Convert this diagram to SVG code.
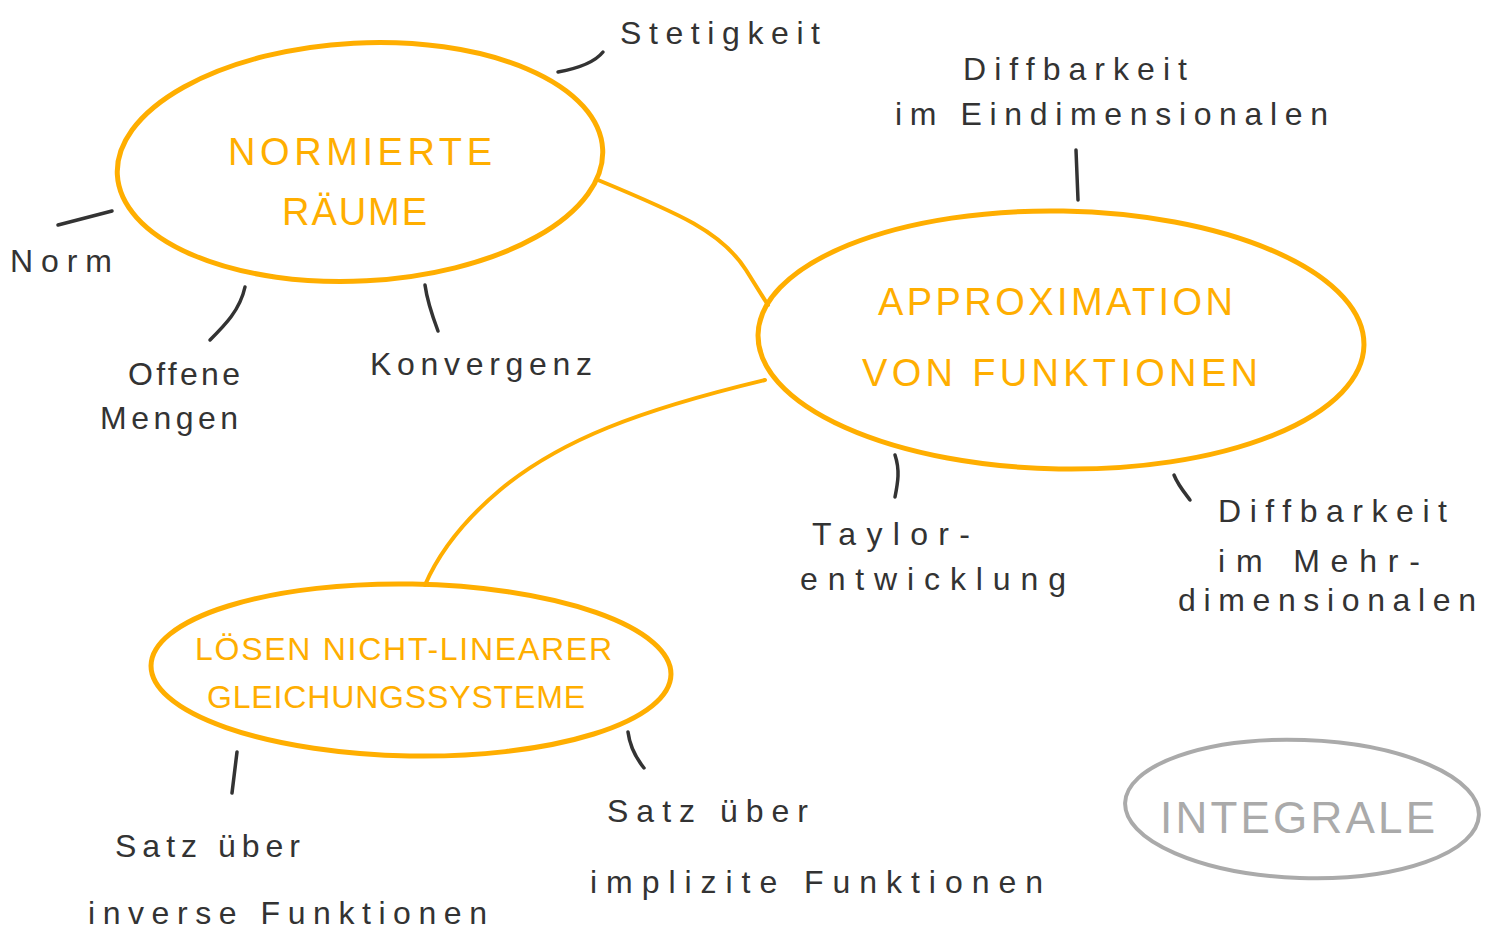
<svg xmlns="http://www.w3.org/2000/svg" width="1492" height="931" viewBox="0 0 1492 931">
  <style>
    .topic { fill: none; stroke: #ffae00; stroke-width: 5; }
    .topic-grey { fill: none; stroke: #aaaaaa; stroke-width: 4; }
    .link { fill: none; stroke: #ffae00; stroke-width: 4; stroke-linecap: round; }
    .tick { fill: none; stroke: #333333; stroke-width: 3.5; stroke-linecap: round; }
    .title { font-family: "Liberation Sans", Arial, sans-serif; fill: #ffae00; font-size: 38px; }
    .title-grey { font-family: "Liberation Sans", Arial, sans-serif; fill: #aaaaaa; font-size: 44px; }
    .note { font-family: "Liberation Sans", Arial, sans-serif; fill: #333333; font-size: 32px; }
  </style>

  <rect width="1492" height="931" fill="#ffffff"/>

  <!-- connectors between topics -->
  <g id="connectors">
    <path class="link" d="M598,180 C680,214 722,232 746,270 L768,305"/>
    <path class="link" d="M765,380 C640,410 560,440 500,490 C462,522 438,555 425,585"/>
  </g>

  <!-- Normierte Räume -->
  <g id="normierte-raeume">
    <ellipse class="topic" cx="360" cy="162" rx="243" ry="119" transform="rotate(-3 360 162)"/>
    <text class="title" x="228" y="165" textLength="264" lengthAdjust="spacing">NORMIERTE</text>
    <text class="title" x="282" y="225" textLength="145" lengthAdjust="spacing">RÄUME</text>
  </g>

  <!-- Approximation von Funktionen -->
  <g id="approximation">
    <ellipse class="topic" cx="1061" cy="340" rx="303" ry="129" transform="rotate(1 1061 340)"/>
    <text class="title" x="878" y="315" textLength="355" lengthAdjust="spacing">APPROXIMATION</text>
    <text class="title" x="862" y="386" textLength="396" lengthAdjust="spacing">VON  FUNKTIONEN</text>
  </g>

  <!-- Lösen nicht-linearer Gleichungssysteme -->
  <g id="gleichungssysteme">
    <ellipse class="topic" cx="411" cy="670" rx="260" ry="86" transform="rotate(1 411 670)"/>
    <text class="title" x="195" y="660" textLength="417" lengthAdjust="spacing" style="font-size:32px">LÖSEN  NICHT-LINEARER</text>
    <text class="title" x="207" y="708" textLength="378" lengthAdjust="spacing" style="font-size:32px">GLEICHUNGSSYSTEME</text>
  </g>

  <!-- Integrale -->
  <g id="integrale">
    <ellipse class="topic-grey" cx="1302" cy="809" rx="177" ry="69" transform="rotate(2 1302 809)"/>
    <text class="title-grey" x="1160" y="833" textLength="275" lengthAdjust="spacing">INTEGRALE</text>
  </g>

  <!-- sub-topics -->
  <g id="stetigkeit">
    <path class="tick" d="M558,72 C580,68 595,62 603,52"/>
    <text class="note" x="620" y="44" textLength="200" lengthAdjust="spacing">Stetigkeit</text>
  </g>
  <g id="norm">
    <path class="tick" d="M58,225 L112,211"/>
    <text class="note" x="10" y="272" textLength="102" lengthAdjust="spacing">Norm</text>
  </g>
  <g id="offene-mengen">
    <path class="tick" d="M245,287 C240,310 225,325 210,340"/>
    <text class="note" x="128" y="385" textLength="112" lengthAdjust="spacing">Offene</text>
    <text class="note" x="100" y="429" textLength="138" lengthAdjust="spacing">Mengen</text>
  </g>
  <g id="konvergenz">
    <path class="tick" d="M425,285 C427,300 432,315 438,331"/>
    <text class="note" x="370" y="375" textLength="222" lengthAdjust="spacing">Konvergenz</text>
  </g>
  <g id="diffbarkeit-eindim">
    <path class="tick" d="M1076,150 L1078,200"/>
    <text class="note" x="963" y="80" textLength="224" lengthAdjust="spacing">Diffbarkeit</text>
    <text class="note" x="895" y="125" textLength="433" lengthAdjust="spacing">im Eindimensionalen</text>
  </g>
  <g id="taylor">
    <path class="tick" d="M895,455 C900,470 898,482 895,497"/>
    <text class="note" x="812" y="545" textLength="158" lengthAdjust="spacing">Taylor-</text>
    <text class="note" x="800" y="590" textLength="266" lengthAdjust="spacing">entwicklung</text>
  </g>
  <g id="diffbarkeit-mehrdim">
    <path class="tick" d="M1174,475 C1178,485 1184,492 1190,500"/>
    <text class="note" x="1218" y="522" textLength="229" lengthAdjust="spacing">Diffbarkeit</text>
    <text class="note" x="1218" y="572" textLength="202" lengthAdjust="spacing">im  Mehr-</text>
    <text class="note" x="1178" y="611" textLength="298" lengthAdjust="spacing">dimensionalen</text>
  </g>
  <g id="satz-inverse">
    <path class="tick" d="M237,752 L232,793"/>
    <text class="note" x="115" y="857" textLength="185" lengthAdjust="spacing">Satz über</text>
    <text class="note" x="88" y="924" textLength="399" lengthAdjust="spacing">inverse  Funktionen</text>
  </g>
  <g id="satz-implizite">
    <path class="tick" d="M628,732 C630,748 636,758 644,768"/>
    <text class="note" x="607" y="822" textLength="201" lengthAdjust="spacing">Satz über</text>
    <text class="note" x="590" y="893" textLength="453" lengthAdjust="spacing">implizite Funktionen</text>
  </g>
</svg>
